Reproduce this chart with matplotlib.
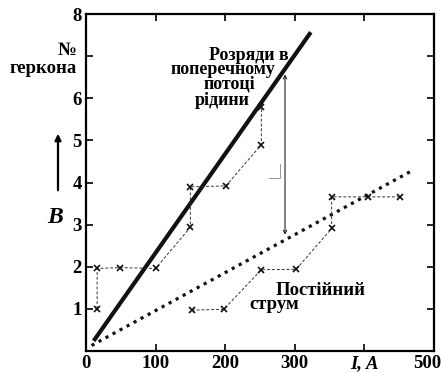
import matplotlib
matplotlib.use("Agg")
import matplotlib.pyplot as plt
from matplotlib.transforms import ScaledTranslation

plt.rcParams['font.family'] = ['Liberation Serif', 'DejaVu Serif']
plt.rcParams['font.weight'] = 'bold'

# Data
transverse_I = [16, 16, 49, 100, 150, 150, 201, 252, 252]
transverse_N = [1.0, 1.96, 1.98, 1.96, 2.94, 3.9, 3.92, 4.9, 5.8]
dc_I = [152, 198, 252, 302, 353, 353, 405, 451]
dc_N = [0.97, 0.99, 1.93, 1.94, 2.91, 3.66, 3.66, 3.66]
fit_transverse_I = [11, 323]
fit_transverse_N = [0.24, 7.57]
fit_dc_I = [8, 466]
fit_dc_N = [0.13, 4.26]
xticks = [0, 100, 200, 300, 400, 500]
xticklabels = ['0', '100', '200', '300', 'I, A', '500']
yticks = [1, 2, 3, 4, 5, 6, 7, 8]
yticklabels = ['1', '2', '3', '4', '5', '6', '', '8']

fig = plt.figure(figsize=(4.41, 3.72), dpi=100)
ax = fig.add_axes([0.195, 0.0565, 0.789, 0.9055])
ax.set_xlim(0, 500)
ax.set_ylim(0, 8)

ax.plot(fit_transverse_I, fit_transverse_N, color='#111111', lw=3.0, solid_capstyle='butt')
ax.plot(fit_dc_I, fit_dc_N, color='#111111', lw=2.3, linestyle=(0, (1.0, 1.5)),
        dash_capstyle='butt')
ax.plot(transverse_I, transverse_N, color='#333333', lw=0.7, linestyle=(0, (3, 2)),
        marker='x', ms=5, mew=1.2, mec='#111111')
ax.plot(dc_I, dc_N, color='#333333', lw=0.7, linestyle=(0, (3, 2)),
        marker='x', ms=5, mew=1.2, mec='#111111')

# double arrow between the lines
ax.annotate('', xy=(286, 6.57), xytext=(286, 2.76),
            arrowprops=dict(arrowstyle='<->', lw=0.8, color='#222222',
                            mutation_scale=6, shrinkA=0, shrinkB=0))
# right angle marker
ax.plot([279, 279, 263], [4.43, 4.12, 4.12], color='#999999', lw=0.7)

ax.set_xticks(xticks)
ax.set_xticklabels(xticklabels)
ax.set_yticks(yticks)
ax.set_yticklabels(yticklabels)
ax.tick_params(direction='in', length=5, width=1.2, top=True, right=True,
               labelsize=13.5, pad=3)
for lab in ax.get_xticklabels() + ax.get_yticklabels():
    lab.set_fontweight('bold')
xl = ax.get_xticklabels()
xl[4].set_fontstyle('italic')
xl[5].set_transform(xl[5].get_transform() + ScaledTranslation(-0.07, 0, fig.dpi_scale_trans))
for s in ax.spines.values():
    s.set_linewidth(1.6)

txt = dict(fontsize=13, fontweight='bold', ha='center', va='baseline')
ax.text(233.5, 6.90, 'Розряди в', **txt)
ax.text(197.6, 6.59, 'поперечному', **txt)
ax.text(206, 6.23, 'потоці', **txt)
ax.text(195.4, 5.85, 'рідини', **txt)
txt2 = dict(txt, fontsize=13.5)
ax.text(337, 1.33, 'Постійний', **txt2)
ax.text(270, 1.0, 'струм', **txt2)

fig.text(77/441, 1 - 55/372, '№', fontsize=13.5, fontweight='bold', ha='right', va='baseline')
fig.text(77/441, 1 - 73/372, 'геркона', fontsize=13.5, fontweight='bold', ha='right', va='baseline')
fig.text(55/441, 1 - 223/372, 'B', fontsize=17, fontweight='bold', style='italic',
         ha='center', va='baseline')
fig.add_artist(matplotlib.patches.FancyArrowPatch((58/441, 1 - 193/372), (58/441, 1 - 131/372),
               transform=fig.transFigure, arrowstyle='-|>', mutation_scale=9,
               lw=1.6, color='black'))

fig.savefig('out.png', dpi=100)
